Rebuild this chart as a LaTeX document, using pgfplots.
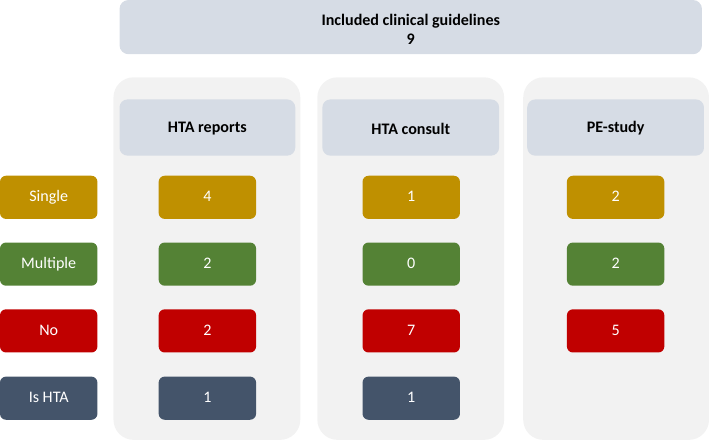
\documentclass[border=0pt]{standalone}
\usepackage{fontspec}
\setmainfont{Carlito}
\usepackage{pgfplots}
\pgfplotsset{compat=1.18}
\definecolor{cgold}{HTML}{BF9000}
\definecolor{cgreen}{HTML}{548235}
\definecolor{cred}{HTML}{C00000}
\definecolor{cblue}{HTML}{44546A}
\definecolor{chead}{HTML}{D6DCE5}
\definecolor{cbg}{HTML}{F2F2F2}
\begin{document}
\begin{tikzpicture}
\begin{axis}[width=709pt,height=442pt,scale only axis,
  xmin=0,xmax=709,ymin=0,ymax=442,y dir=reverse,hide axis,clip=false,
  boxplot/.style={draw=none,mark=none,nodes near coords,point meta=explicit symbolic,
    every node near coord/.append style={anchor=center,fill=#1,text=white,
      rounded corners=6pt,minimum width=97pt,minimum height=43pt,inner sep=0pt,
      text height=11pt,text depth=2pt,
      font=\fontsize{16}{19}\selectfont}}]
% background panels
\fill[cbg,rounded corners=20pt] (axis cs:114,79) rectangle (axis cs:300,440);
\fill[cbg,rounded corners=20pt] (axis cs:317,79) rectangle (axis cs:503,440);
\fill[cbg,rounded corners=20pt] (axis cs:522,79) rectangle (axis cs:707,440);
% top box
\fill[chead,rounded corners=9pt] (axis cs:120,2) rectangle (axis cs:700,56);
\node[align=center,font=\fontsize{16}{19}\selectfont\bfseries] at (axis cs:410,31) {Included clinical guidelines\\9};
% headers
\fill[chead,rounded corners=8pt] (axis cs:120,101) rectangle (axis cs:295,157);
\fill[chead,rounded corners=8pt] (axis cs:322,101) rectangle (axis cs:498,157);
\fill[chead,rounded corners=8pt] (axis cs:526,101) rectangle (axis cs:702,157);
\node[font=\fontsize{16}{19}\selectfont\bfseries] at (axis cs:207.5,130) {HTA reports};
\node[font=\fontsize{16}{19}\selectfont\bfseries] at (axis cs:410,130) {HTA consult};
\node[font=\fontsize{16}{19}\selectfont\bfseries] at (axis cs:614,130) {PE-study};
% data boxes
\addplot[boxplot=cgold] coordinates {(49.5,198.5)[Single] (207.5,198.5)[4] (410.5,198.5)[1] (614,198.5)[2]};
\addplot[boxplot=cgreen] coordinates {(49.5,265)[Multiple] (207.5,265)[2] (410.5,265)[0] (614,265)[2]};
\addplot[boxplot=cred] coordinates {(49.5,331.5)[No] (207.5,331.5)[2] (410.5,331.5)[7] (614,331.5)[5]};
\addplot[boxplot=cblue] coordinates {(49.5,398.5)[Is HTA] (207.5,398.5)[1] (410.5,398.5)[1]};
\end{axis}
\end{tikzpicture}
\end{document}
